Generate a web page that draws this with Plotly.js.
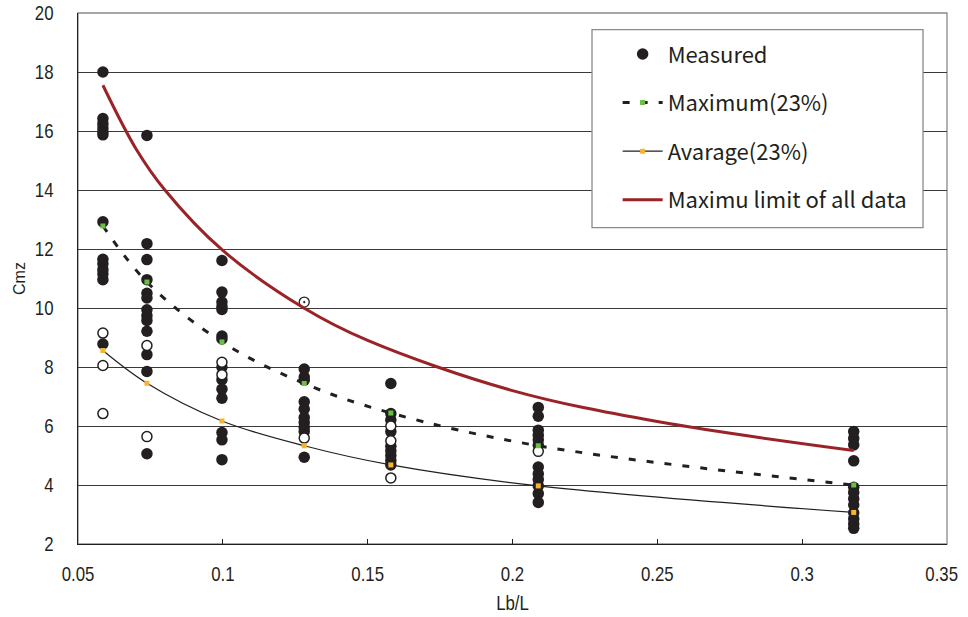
<!DOCTYPE html>
<html>
<head>
<meta charset="utf-8">
<script src="https://cdn.plot.ly/plotly-3.0.1.min.js"></script>
<style>
html,body{margin:0;padding:0;background:#fff;}
#chart{width:968px;height:617px;}
</style>
</head>
<body>
<div id="chart"></div>
<script>
// Lb/L positions of the measurement groups
const xCols = [0.0586, 0.0738, 0.0997, 0.1281, 0.158, 0.2089, 0.3178];

// Measured (filled) values per group
const filled1 = [18.0, 16.42, 16.25, 16.1, 15.97, 15.87, 12.92, 11.65, 11.5, 11.3, 11.15, 10.96, 8.78];
const filled2 = [15.85, 12.18, 11.64, 10.96, 10.5, 10.34, 9.94, 9.74, 9.58, 9.21, 8.42, 7.85, 5.06];
const filled3 = [11.61, 10.54, 10.2, 10.05, 9.95, 9.05, 8.95, 7.99, 7.57, 7.25, 6.94, 5.78, 5.53, 4.86];
const filled4 = [7.93, 7.66, 7.55, 6.82, 6.57, 6.29, 6.12, 5.95, 5.81, 4.94];
const filled5 = [7.44, 6.42, 6.2, 5.81, 5.31, 5.16, 5.0, 4.83, 4.68];
const filled6 = [6.63, 6.33, 5.86, 5.69, 5.53, 5.35, 4.61, 4.38, 4.19, 3.97, 3.71, 3.41];
const filled7 = [5.81, 5.58, 5.36, 4.82, 3.92, 3.75, 3.53, 3.32, 3.06, 2.85, 2.68, 2.53];

// Open-circle values per group
const open1 = [9.15, 8.05, 6.42];
const open2 = [8.73, 5.64];
const open3 = [8.16, 7.74];
const open4 = [5.59];
const open5 = [6.0, 5.5, 4.24];
const open6 = [5.14];
const open7 = [];

// Circled-dot point
const targetX = [0.1281];
const targetY = [10.2];

// Maximum (23%) and Average (23%)
const maxY = [12.78, 10.88, 8.85, 7.44, 6.44, 5.33, 4.0];
const avgY = [8.56, 7.45, 6.17, 5.33, 4.68, 3.97, 3.07];

// Maximum limit of all data
const limitX = [0.0586, 0.07, 0.08, 0.1, 0.128, 0.15, 0.2, 0.25, 0.3178];
const limitY = [17.55, 15.4, 14.0, 11.95, 10.0, 8.9, 7.2, 6.15, 5.17];

const xTicks = [0.05, 0.1, 0.15, 0.2, 0.25, 0.3, 0.35];
const xTickText = ['0.05', '0.1', '0.15', '0.2', '0.25', '0.3', '0.35'];
const yTicks = [2, 4, 6, 8, 10, 12, 14, 16, 18, 20];

const filledGroups = [filled1, filled2, filled3, filled4, filled5, filled6, filled7];
const openGroups = [open1, open2, open3, open4, open5, open6, open7];

function flatten(groups) {
  const xs = [], ys = [];
  groups.forEach((g, i) => g.forEach(v => { xs.push(xCols[i]); ys.push(v); }));
  return {xs, ys};
}
const F = flatten(filledGroups);
const O = flatten(openGroups);

const narrowBase = '"Liberation Sans", Arial, sans-serif';
const gothic = '"Noto Sans CJK JP", "Noto Sans", sans-serif';

const traces = [
  {
    x: F.xs, y: F.ys, type: 'scatter', mode: 'markers', name: 'Measured',
    legendgroup: 'a',
    marker: {color: '#231f20', size: 11.5, line: {width: 0}}
  },
  {
    x: O.xs, y: O.ys, type: 'scatter', mode: 'markers', name: 'open', showlegend: false,
    marker: {color: '#ffffff', size: 10, line: {color: '#231f20', width: 1.5}}
  },
  {
    x: targetX, y: targetY, type: 'scatter', mode: 'markers', name: 'target', showlegend: false,
    marker: {symbol: 'circle-open-dot', color: '#231f20', size: 10, line: {color: '#231f20', width: 1.3}}
  },
  {
    x: xCols, y: maxY, type: 'scatter', mode: 'lines+markers', name: 'Maximum(23%)',
    legendgroup: 'b',
    line: {color: '#231f20', width: 3, dash: '7px,11px', shape: 'spline', smoothing: 1},
    marker: {symbol: 'square', color: '#6cbf45', size: 5, line: {width: 0}}
  },
  {
    x: xCols, y: avgY, type: 'scatter', mode: 'lines+markers', name: 'Avarage(23%)',
    legendgroup: 'c',
    line: {color: '#231f20', width: 1.2, shape: 'spline', smoothing: 1},
    marker: {symbol: 'square', color: '#f7b52c', size: 5, line: {width: 0}}
  },
  {
    x: limitX, y: limitY, type: 'scatter', mode: 'lines', name: 'Maximu limit of all data',
    legendgroup: 'd',
    line: {color: '#9a2328', width: 3, shape: 'spline', smoothing: 1}
  }
];

const layout = {
  width: 968, height: 617,
  margin: {l: 78, r: 21, t: 13, b: 73},
  paper_bgcolor: '#ffffff', plot_bgcolor: '#ffffff',
  showlegend: true,
  legend: {
    x: 0.621, y: 0.962, xanchor: 'left', yanchor: 'top',
    bgcolor: 'rgba(255,255,255,0)', borderwidth: 0,
    font: {family: gothic, size: 22, color: '#231f20'},
    traceorder: 'grouped', tracegroupgap: 17, itemwidth: 40
  },
  xaxis: {
    range: [0.05, 0.35], tickvals: xTicks, ticktext: xTickText,
    showgrid: false, zeroline: false,
    showline: true, linecolor: '#231f20', linewidth: 1.3, mirror: false,
    ticks: 'inside', ticklen: 5, tickcolor: '#231f20', tickwidth: 1,
    ticklabelstandoff: 10, ticklabeloverflow: 'allow',
    tickfont: {family: narrowBase, size: 21, color: '#231f20'},
    title: {text: 'Lb/L', font: {family: narrowBase, size: 21, color: '#231f20'}, standoff: 11}
  },
  yaxis: {
    range: [2, 20], tickvals: yTicks,
    showgrid: true, gridcolor: '#3a3a3a', gridwidth: 1,
    zeroline: false,
    showline: true, linecolor: '#231f20', linewidth: 1.3, mirror: false,
    ticks: '', ticklabelstandoff: 19, ticklabeloverflow: 'allow',
    tickfont: {family: narrowBase, size: 21, color: '#231f20'},
    title: {text: 'Cmz', font: {family: narrowBase, size: 16, color: '#231f20'}, standoff: 0}
  },
  shapes: [
    {type: 'rect', xref: 'paper', yref: 'paper', x0: 0, x1: 1, y0: 0, y1: 1,
     line: {color: '#8a8a8a', width: 1.3}, fillcolor: 'rgba(0,0,0,0)', layer: 'below'},
    {type: 'rect', xref: 'paper', yref: 'paper', x0: 0.5915, x1: 0.9724, y0: 0.5957, y1: 0.9686,
     line: {color: '#8a8a8a', width: 1.3}, fillcolor: '#ffffff', layer: 'above'}
  ]
};

Plotly.newPlot('chart', traces, layout, {displayModeBar: false, staticPlot: true}).then(function (gd) {
  // condense tick labels and x title horizontally (narrow typeface look)
  gd.querySelectorAll('.xtick text, .ytick text, .g-xtitle text').forEach(function (el) {
    const w = el.getComputedTextLength();
    el.setAttribute('textLength', (w * 0.8).toFixed(2));
    el.setAttribute('lengthAdjust', 'spacingAndGlyphs');
  });
  // the last x label sits slightly inside the right edge, as in the original
  const xt = gd.querySelectorAll('.xtick text');
  if (xt.length) {
    const last = xt[xt.length - 1];
    last.setAttribute('text-anchor', 'end');
    last.style.textAnchor = 'end';
    last.setAttribute('dx', '11');
  }
});
</script>
</body>
</html>
